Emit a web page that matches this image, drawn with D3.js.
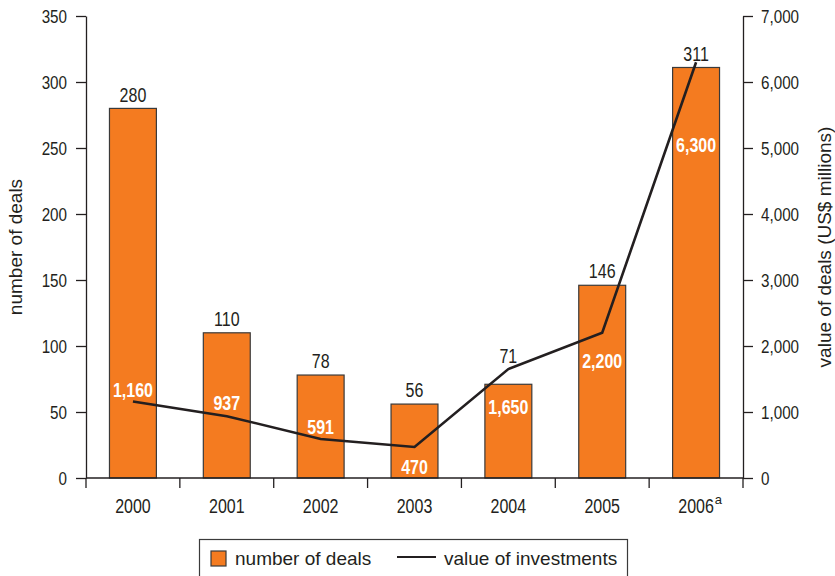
<!DOCTYPE html>
<html>
<head>
<meta charset="utf-8">
<script src="https://cdn.jsdelivr.net/npm/d3@7"></script>
<style>
  html, body { margin: 0; padding: 0; background: #fff; }
  svg { display: block; }
  text { font-family: "Liberation Sans", Arial, sans-serif; }
</style>
</head>
<body>
<svg id="chart" width="835" height="576"></svg>
<script>
// Venture deals per year and the value invested (US$ millions)
const years = ["2000", "2001", "2002", "2003", "2004", "2005", "2006"];
const yearNotes = ["", "", "", "", "", "", "a"];
const deals = [280, 110, 78, 56, 71, 146, 311];
const investments = [1160, 937, 591, 470, 1650, 2200, 6300];
const dealTicks = [0, 50, 100, 150, 200, 250, 300, 350];
const valueTicks = [0, 1000, 2000, 3000, 4000, 5000, 6000, 7000];

// Label placement (px): lift of the deal counts above the bar,
// and offset of the investment figures from the line point.
const dealLabelLift = [14, 14, 14, 14, 28, 14, 14];
const valueLabelDy = [-12, -13, -12, 20, 38, 28, 83];

const ORANGE = "#F47B20";
const INK = "#231f20";
const NARROW = 0.8; // horizontal squeeze for the condensed numerals

const svg = d3.select("#chart");
const plot = { left: 86, right: 743, top: 16, bottom: 478 };

// Squeeze text horizontally to imitate a condensed face
function condense(sel, k) {
  sel.each(function () {
    const w = this.getComputedTextLength();
    this.setAttribute("textLength", (w * k).toFixed(2));
    this.setAttribute("lengthAdjust", "spacingAndGlyphs");
  });
}

const x = d3.scaleBand().domain(years)
  .range([plot.left, plot.right])
  .paddingInner(0.5).paddingOuter(0.25);
const yL = d3.scaleLinear().domain([0, 350]).range([plot.bottom, plot.top]);
const yR = d3.scaleLinear().domain([0, 7000]).range([plot.bottom, plot.top]);
const cx = d => x(d) + x.bandwidth() / 2;

// Bars: number of deals
svg.append("g").selectAll("rect").data(years).join("rect")
  .attr("x", d => x(d))
  .attr("y", (d, i) => yL(deals[i]))
  .attr("width", x.bandwidth())
  .attr("height", (d, i) => yL(0) - yL(deals[i]))
  .attr("fill", ORANGE)
  .attr("stroke", "#3a3a3a")
  .attr("stroke-width", 1.2);

// Deal counts above the bars
svg.append("g").selectAll("text").data(years).join("text")
  .attr("x", d => cx(d))
  .attr("y", (d, i) => yL(deals[i]) - dealLabelLift[i])
  .attr("dy", "0.36em")
  .attr("text-anchor", "middle")
  .attr("font-size", 20)
  .attr("fill", INK)
  .text((d, i) => deals[i])
  .call(condense, NARROW);

// Line: value of investments
const line = d3.line()
  .x((d, i) => cx(years[i]))
  .y(d => yR(d));
svg.append("path")
  .datum(investments)
  .attr("d", line)
  .attr("fill", "none")
  .attr("stroke", INK)
  .attr("stroke-width", 2.6)
  .attr("stroke-linejoin", "miter");

// Investment figures inside the bars
svg.append("g").selectAll("text").data(years).join("text")
  .attr("x", d => cx(d))
  .attr("y", (d, i) => yR(investments[i]) + valueLabelDy[i])
  .attr("dy", "0.36em")
  .attr("text-anchor", "middle")
  .attr("font-size", 20)
  .attr("font-weight", "bold")
  .attr("fill", "#fff")
  .text((d, i) => d3.format(",")(investments[i]))
  .call(condense, NARROW);

// Left axis
const axL = svg.append("g")
  .attr("transform", `translate(${plot.left},0)`)
  .call(d3.axisLeft(yL).tickValues(dealTicks).tickSize(10).tickSizeOuter(0).tickPadding(9));
// Right axis
const axR = svg.append("g")
  .attr("transform", `translate(${plot.right},0)`)
  .call(d3.axisRight(yR).tickValues(valueTicks).tickSize(10).tickSizeOuter(0).tickPadding(8)
    .tickFormat(d3.format(",")));
[axL, axR].forEach(ax => {
  ax.attr("font-family", null).attr("font-size", null);
  ax.select(".domain").attr("stroke", INK).attr("stroke-width", 1.3);
  ax.selectAll(".tick line").attr("stroke", INK).attr("stroke-width", 1.3);
  ax.selectAll(".tick text")
    .attr("font-size", 19).attr("fill", INK)
    .call(condense, NARROW);
});

// Bottom axis: baseline, ticks between categories, year labels
const xAxis = svg.append("g");
xAxis.append("line")
  .attr("x1", plot.left).attr("x2", plot.right)
  .attr("y1", plot.bottom).attr("y2", plot.bottom)
  .attr("stroke", INK).attr("stroke-width", 1.3);
const boundaries = d3.range(years.length + 1).map(i => plot.left + i * x.step());
xAxis.selectAll("line.tk").data(boundaries).join("line")
  .attr("class", "tk")
  .attr("x1", d => d).attr("x2", d => d)
  .attr("y1", plot.bottom).attr("y2", plot.bottom + 10)
  .attr("stroke", INK).attr("stroke-width", 1.3);
// Year labels, narrowed by a horizontal scale; a footnote marker follows where set
const yearText = xAxis.selectAll("text.yr").data(years).join("text")
  .attr("class", "yr")
  .attr("transform", d => `translate(${cx(d)},513) scale(${NARROW},1)`)
  .attr("text-anchor", "middle")
  .attr("font-size", 20)
  .attr("fill", INK)
  .text(d => d);
yearText.each(function (d, i) {
  if (!yearNotes[i]) return;
  const half = this.getComputedTextLength() * NARROW / 2;
  xAxis.append("text")
    .attr("x", cx(d) + half + 1)
    .attr("y", 504)
    .attr("font-size", 13)
    .attr("fill", INK)
    .text(yearNotes[i]);
});

// Axis titles
svg.append("text")
  .attr("transform", `translate(22,${(plot.top + plot.bottom) / 2}) rotate(-90)`)
  .attr("text-anchor", "middle")
  .attr("font-size", 19)
  .attr("fill", INK)
  .text("number of deals");
svg.append("text")
  .attr("transform", `translate(831,${(plot.top + plot.bottom) / 2}) rotate(-90)`)
  .attr("text-anchor", "middle")
  .attr("font-size", 19)
  .attr("fill", INK)
  .text("value of deals (US$ millions)");

// Legend
const lg = svg.append("g");
lg.append("rect")
  .attr("x", 199.5).attr("y", 539.5)
  .attr("width", 428).attr("height", 45)
  .attr("fill", "#fff").attr("stroke", "#3a3a3a").attr("stroke-width", 1.2);
lg.append("rect")
  .attr("x", 211).attr("y", 551).attr("width", 15).attr("height", 15)
  .attr("fill", ORANGE).attr("stroke", "#3a3a3a").attr("stroke-width", 1.2);
lg.append("text")
  .attr("x", 235).attr("y", 565)
  .attr("font-size", 19).attr("fill", INK)
  .text("number of deals");
lg.append("line")
  .attr("x1", 397).attr("x2", 436)
  .attr("y1", 557).attr("y2", 557)
  .attr("stroke", INK).attr("stroke-width", 2.2);
lg.append("text")
  .attr("x", 444).attr("y", 565)
  .attr("font-size", 19).attr("fill", INK)
  .text("value of investments");
</script>
</body>
</html>
